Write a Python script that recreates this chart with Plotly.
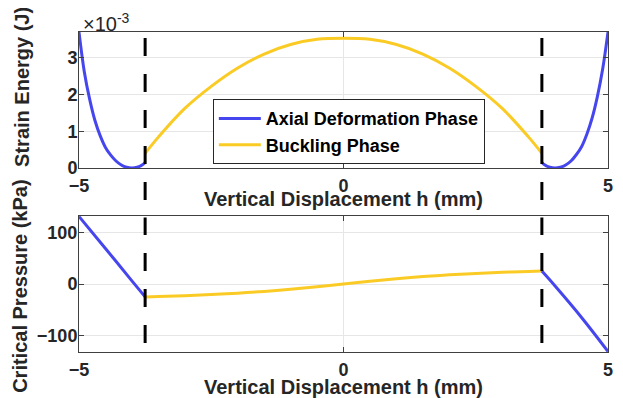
import plotly.graph_objects as go
from plotly.subplots import make_subplots

# ===================== Data =====================
# top panel: strain energy, in units of 1e-3 J
axial_left_h = [-5.0, -4.9, -4.8, -4.7, -4.6, -4.5, -4.4, -4.3, -4.2, -4.1, -4.0, -3.9, -3.8, -3.75]
axial_left_U = [3.70, 2.62, 1.88, 1.30, 0.88, 0.56, 0.35, 0.19, 0.08, 0.02, 0.0, 0.02, 0.09, 0.15]
axial_right_h = [3.75, 3.8, 3.9, 4.0, 4.1, 4.2, 4.3, 4.4, 4.5, 4.6, 4.7, 4.8, 4.9, 5.0]
axial_right_U = [0.15, 0.09, 0.02, 0.0, 0.02, 0.08, 0.19, 0.36, 0.58, 0.92, 1.36, 1.95, 2.70, 3.70]
buck_h = [-3.75, -3.5, -3.0, -2.5, -2.0, -1.5, -1.0, -0.5, 0.0, 0.5, 1.0, 1.5, 2.0, 2.5, 3.0, 3.5, 3.75]
buck_U = [0.40, 0.84, 1.62, 2.22, 2.72, 3.10, 3.36, 3.50, 3.53, 3.50, 3.36, 3.10, 2.72, 2.22, 1.62, 0.84, 0.40]

# bottom panel: critical pressure (kPa)
axial_left_P_h = [-5.0, -4.5, -4.0, -3.75]
axial_left_P = [131, 69, 6, -25]
axial_right_P_h = [3.75, 4.0, 4.5, 5.0]
axial_right_P = [25, -4, -65, -131]
buck_P = [-25, -24.4, -22.8, -20.6, -17.8, -14.4, -10.2, -5.2, 0, 5.2, 10.2, 14.4, 17.8, 20.6, 22.8, 24.4, 25]

phase_bounds = [-3.75, 3.75]

x_ticks = [-5, 0, 5]
U_ticks = [0, 1, 2, 3]
P_ticks = [-100, 0, 100]

BLUE = "#4646EE"
YELLOW = "#FBCB25"
FONT = "Liberation Sans"
TXT = "#262626"

# ===================== Figure =====================
# page body has an 8px margin, so the figure is 8px smaller and shifted
fig = make_subplots(rows=2, cols=1, vertical_spacing=0.15)

line_kw = dict(width=3, shape="spline")
fig.add_trace(go.Scatter(x=axial_left_h, y=axial_left_U, mode="lines", line=dict(color=BLUE, **line_kw),
                         name="Axial Deformation Phase", legendgroup="axial"), row=1, col=1)
fig.add_trace(go.Scatter(x=buck_h, y=buck_U, mode="lines", line=dict(color=YELLOW, **line_kw),
                         name="Buckling Phase", legendgroup="buck"), row=1, col=1)
fig.add_trace(go.Scatter(x=axial_right_h, y=axial_right_U, mode="lines", line=dict(color=BLUE, **line_kw),
                         legendgroup="axial", showlegend=False), row=1, col=1)

fig.add_trace(go.Scatter(x=axial_left_P_h, y=axial_left_P, mode="lines", line=dict(color=BLUE, **line_kw),
                         legendgroup="axial", showlegend=False), row=2, col=1)
fig.add_trace(go.Scatter(x=buck_h, y=buck_P, mode="lines", line=dict(color=YELLOW, **line_kw),
                         legendgroup="buck", showlegend=False), row=2, col=1)
fig.add_trace(go.Scatter(x=axial_right_P_h, y=axial_right_P, mode="lines", line=dict(color=BLUE, **line_kw),
                         legendgroup="axial", showlegend=False), row=2, col=1)

# dashed phase boundaries (top one runs past the axis, like the original)
for b in phase_bounds:
    fig.add_shape(type="line", xref="x", yref="paper", x0=b, x1=b, y0=0.475, y1=0.995,
                  line=dict(color="black", width=3, dash="18px,18px"))
    fig.add_shape(type="line", xref="x2", yref="paper", x0=b, x1=b, y0=0.028, y1=0.42,
                  line=dict(color="black", width=3, dash="18px,18px"))

axis_common = dict(
    showline=True, linecolor="#404040", linewidth=1, mirror="ticks",
    ticks="inside", ticklen=5, tickcolor="#404040",
    showgrid=True, gridcolor="#e6e6e6", zeroline=False, automargin=False,
    tickfont=dict(family=FONT, size=18, color=TXT, weight="bold"),
)
title_font = dict(family=FONT, size=20, color=TXT, weight="bold")

fig.update_xaxes(range=[-5, 5], tickvals=x_ticks, ticklabelstandoff=1, **axis_common)
fig.update_yaxes(row=1, col=1, range=[0, 3.7], tickvals=U_ticks, ticklabelstandoff=-3, **axis_common)
fig.update_yaxes(row=2, col=1, range=[-132, 132], tickvals=P_ticks, ticklabelstandoff=-3, **axis_common)

titles = [
    dict(text="Vertical Displacement h (mm)", x=0.5, y=0.478, textangle=0),
    dict(text="Vertical Displacement h (mm)", x=0.5, y=-0.11, textangle=0),
    dict(text="Strain Energy (J)", x=-0.108, y=0.828, textangle=-90),
    dict(text="Critical Pressure (kPa)", x=-0.112, y=0.206, textangle=-90),
]
annotations = [dict(xref="paper", yref="paper", xanchor="center", yanchor="middle", showarrow=False,
                    font=title_font, **t) for t in titles]
annotations.append(dict(text="\u00d710<sup>-3</sup>", xref="paper", yref="paper", x=0.004, y=0.985,
                        xanchor="left", yanchor="bottom", showarrow=False,
                        font=dict(family=FONT, size=20, color=TXT)))

fig.update_layout(
    width=615, height=390,
    margin=dict(l=71, r=15, t=24, b=46, autoexpand=False),
    paper_bgcolor="white", plot_bgcolor="white",
    yaxis=dict(domain=[0.575, 1.0]),
    yaxis2=dict(domain=[0.0, 0.425]),
    showlegend=True,
    legend=dict(x=0.253, y=0.79, xanchor="left", yanchor="top",
                bgcolor="white", bordercolor=TXT, borderwidth=1,
                traceorder="grouped", tracegroupgap=0, itemwidth=42,
                font=dict(family=FONT, size=18, color="black", weight="bold")),
    annotations=annotations,
)

fig.write_html("out.html")
